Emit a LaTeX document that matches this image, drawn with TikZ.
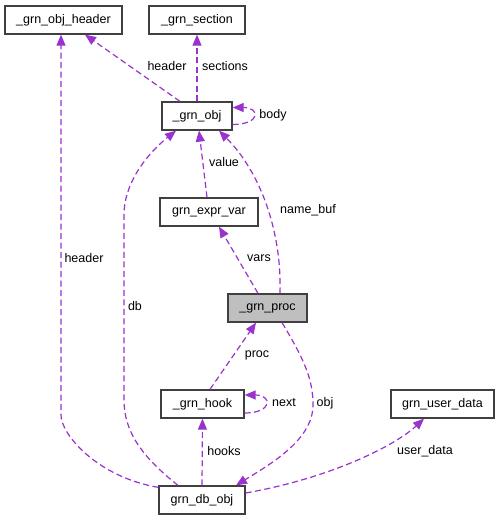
\documentclass[tikz,border=0pt]{standalone}
\usepackage{fontspec}
\setmainfont{Liberation Sans}
\usetikzlibrary{arrows.meta,calc}
\definecolor{edgec}{HTML}{9A32CD}
\definecolor{boxc}{HTML}{404040}
\definecolor{procfill}{HTML}{BFBFBF}
\begin{document}
\begin{tikzpicture}[x=1pt,y=-1pt,
 box/.style={draw=boxc,line width=1.3pt,minimum height=28pt,inner sep=0pt,font=\fontsize{12.5}{14}\selectfont},
 e/.style={draw=edgec,line width=1.2pt,dash pattern=on 6pt off 3.5pt,-{Triangle[length=11pt,width=9pt]}},
 lab/.style={font=\fontsize{12.5}{14}\selectfont,inner sep=0pt}]
\useasboundingbox[fill=white] (0,0) rectangle (500,520);
\node[box,minimum width=117pt] (hdr) at (63.5,20) {\_grn\_obj\_header};
\node[box,minimum width=96pt] (sec) at (197,20) {\_grn\_section};
\node[box,minimum width=70pt] (obj) at (197,116) {\_grn\_obj};
\node[box,minimum width=98pt] (expr) at (209,212) {grn\_expr\_var};
\node[box,minimum width=79pt,fill=procfill] (proc) at (267.5,308) {\_grn\_proc};
\node[box,minimum width=83pt] (hook) at (202.5,404) {\_grn\_hook};
\node[box,minimum width=86pt] (db) at (202,500) {grn\_db\_obj};
\node[box,minimum width=103pt] (ud) at (442.5,404) {grn\_user\_data};

% edges
\draw[e] ([xshift=-17pt]obj.north) -- ([xshift=21.5pt]hdr.south);
\node[lab] (l1) at (167,66) {header};
\draw[e] (obj.north) -- (sec.south);
\node[lab] (l2) at (225,66) {sections};
\draw[e] ([yshift=-8.5pt]obj.east) .. controls +(28pt,0pt) and +(28pt,0pt) .. ([yshift=8.5pt]obj.east);
\node[lab] (l3) at (273,115) {body};
\draw[e] ([xshift=-2pt]expr.north) -- ([xshift=2pt]obj.south);
\node[lab] (l4) at (224,162) {value};
\draw[e] ([xshift=12.5pt]proc.north) .. controls +(2,-64) and +(40,40) .. ([xshift=22pt]obj.south);
\node[lab] (l5) at (308,210) {name\_buf};
\draw[e] ([xshift=-9.5pt]proc.north) -- ([xshift=10pt]expr.south);
\node[lab] (l6) at (259,258) {vars};
\draw[e] ([xshift=-24pt]db.north) .. controls +(-38,-30) and +(0,30) .. (124,400) -- (124,215) .. controls +(0,-35) and +(-25,20) .. ([xshift=-21pt]obj.south);
\node[lab] (l7) at (135,306) {db};
\draw[e] ([yshift=-2pt]db.north west) .. controls +(-60,-10) and +(0,20) .. (61,415) -- ([xshift=-2.5pt]hdr.south);
\node[lab] (l8) at (84,258) {header};
\draw[e] ([xshift=7.5pt]hook.north) -- ([xshift=-11.5pt]proc.south);
\node[lab] (l9) at (257,355) {proc};
\draw[e] ([yshift=-9pt]hook.east) .. controls +(28pt,0pt) and +(28pt,0pt) .. ([yshift=9pt]hook.east);
\node[lab] (l10) at (284,403) {next};
\draw[e] (db.north) -- (hook.south);
\node[lab] (l11) at (224,451) {hooks};
\draw[e] ([xshift=14.5pt]proc.south) .. controls +(23,38) and +(0,-25) .. (313,405) .. controls +(0,35) and +(34,-21) .. ([xshift=34pt]db.north);
\node[lab] (l12) at (325,403) {obj};
\draw[e] ([yshift=7pt]db.east) .. controls +(85,-15) and +(-29,27) .. ([xshift=-18.5pt]ud.south);
\node[lab] (l13) at (425,451) {user\_data};
\end{tikzpicture}
\end{document}
